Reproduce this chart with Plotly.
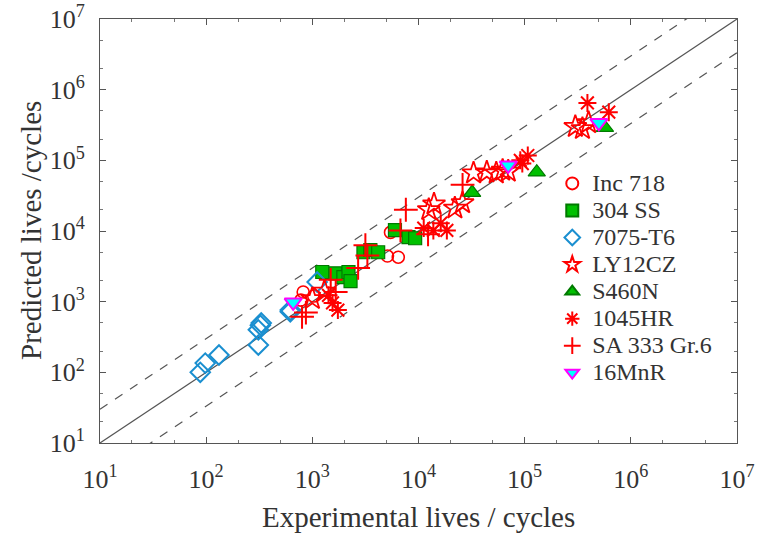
import plotly.graph_objects as go

# ---- data (experimental life, predicted life) ----
inc718_x = [820, 1030, 780, 5100, 6450, 5450]
inc718_y = [1370, 1200, 1050, 4420, 4260, 9550]

ss304_x = [1240, 1650, 1960, 2190, 2290, 3030, 3520, 4170, 6000, 8050, 9300]
ss304_y = [2630, 2520, 2220, 2630, 1950, 5000, 5380, 5000, 10300, 8200, 7900]

al7075_x = [88, 98, 132, 310, 324, 310, 330, 620, 620, 1110]
al7075_y = [100, 135, 176, 243, 465, 400, 500, 760, 720, 1900]

ly12cz_x = [1000, 1300, 12500, 14000, 22000, 26000, 33000, 44000, 54000, 62000, 70000, 300000, 350000, 400000]
ly12cz_y = [1100, 1400, 20000, 24000, 21000, 25000, 66000, 68000, 66000, 72000, 70000, 300000, 280000, 340000]

s460n_x = [32000, 130000, 570000]
s460n_y = [35000, 68000, 290000]

hr1045_x = [1740, 1550, 1420, 11200, 13800, 18500, 16200, 107000, 91000, 95000, 390000, 620000]
hr1045_y = [760, 960, 1230, 11000, 10200, 10200, 12900, 117000, 100000, 90000, 650000, 480000]

sa333_x = [800, 870, 1490, 1660, 3160, 2700, 7600, 6760, 12300, 26000, 3300]
sa333_y = [610, 700, 2040, 1370, 6300, 3000, 20000, 10200, 9000, 45000, 4500]

mnr16_x = [660, 70000, 500000]
mnr16_y = [980, 85000, 340000]

line_x = [10, 1e7]
tick_vals = [1e1, 1e2, 1e3, 1e4, 1e5, 1e6, 1e7]
tick_text = ["10<sup>1</sup>", "10<sup>2</sup>", "10<sup>3</sup>", "10<sup>4</sup>",
             "10<sup>5</sup>", "10<sup>6</sup>", "10<sup>7</sup>"]

RED = "#ff0000"
TXT = "#333333"
fig = go.Figure()

# reference lines
fig.add_trace(go.Scatter(x=line_x, y=line_x, mode="lines",
                         line=dict(color="#555555", width=1.2), showlegend=False, hoverinfo="skip"))
fig.add_trace(go.Scatter(x=line_x, y=[v * 3 for v in line_x], mode="lines",
                         line=dict(color="#555555", width=1.2, dash="dash"), showlegend=False, hoverinfo="skip"))
fig.add_trace(go.Scatter(x=line_x, y=[v / 3 for v in line_x], mode="lines",
                         line=dict(color="#555555", width=1.2, dash="dash"), showlegend=False, hoverinfo="skip"))

def add(name, xs, ys, symbol, color, size, lw, linecolor=None):
    fig.add_trace(go.Scatter(
        x=xs, y=ys, mode="markers",
        name='<span style="font-size:24px">' + name + '</span>',
        marker=dict(symbol=symbol, size=size, color=color,
                    line=dict(color=linecolor or color, width=lw))))

add("Inc 718", inc718_x, inc718_y, "circle-open", RED, 12, 1.6)
add("304 SS", ss304_x, ss304_y, "square", "#00c000", 13, 1.2, "#007a00")
add("7075-T6", al7075_x, al7075_y, "diamond-open", "#1a8fd0", 15, 2)
add("LY12CZ", ly12cz_x, ly12cz_y, "star-open", RED, 17, 1.8)
add("S460N", s460n_x, s460n_y, "triangle-up", "#00c000", 15, 1.2, "#007a00")
add("1045HR", hr1045_x, hr1045_y, "asterisk-open", RED, 15, 2)
add("SA 333 Gr.6", sa333_x, sa333_y, "cross-thin-open", RED, 17, 2)
add("16MnR", mnr16_x, mnr16_y, "triangle-down", "#00ffff", 15, 2, "#ff00ff")

axis_common = dict(
    type="log", range=[1, 7], tickvals=tick_vals, ticktext=tick_text,
    ticks="inside", ticklen=6, tickcolor="#555555",
    showline=True, linecolor="#555555", linewidth=1, mirror="ticks",
    showgrid=False, zeroline=False, automargin=False,
    tickfont=dict(family="Liberation Serif", size=26, color=TXT),
    minor=dict(ticks="inside", ticklen=3, tickcolor="#777777", showgrid=False),
)

fig.update_layout(
    width=757, height=536,
    margin=dict(l=100, r=20, t=19, b=93),
    plot_bgcolor="white", paper_bgcolor="white",
    font=dict(family="Liberation Serif", color=TXT),
    xaxis=dict(**axis_common, ticklabelstandoff=13),
    yaxis=dict(**axis_common, ticklabelstandoff=9),
    legend=dict(x=0.71, y=0.656, xanchor="left", yanchor="top",
                bgcolor="rgba(255,255,255,0)", borderwidth=0,
                font=dict(family="Liberation Serif", size=18.5, color=TXT),
                itemsizing="constant", tracegroupgap=0),
    showlegend=True,
    annotations=[
        dict(text="Experimental lives / cycles", xref="paper", yref="paper",
             x=0.5, y=-0.1745, xanchor="center", yanchor="middle", showarrow=False,
             font=dict(family="Liberation Serif", size=29, color=TXT)),
        dict(text="Predicted lives /cycles", xref="paper", yref="paper",
             x=0, y=0.5, xanchor="center", yanchor="middle", showarrow=False,
             textangle=-90, xshift=-69,
             font=dict(family="Liberation Serif", size=29, color=TXT)),
    ],
)

fig.write_html("out.html")
